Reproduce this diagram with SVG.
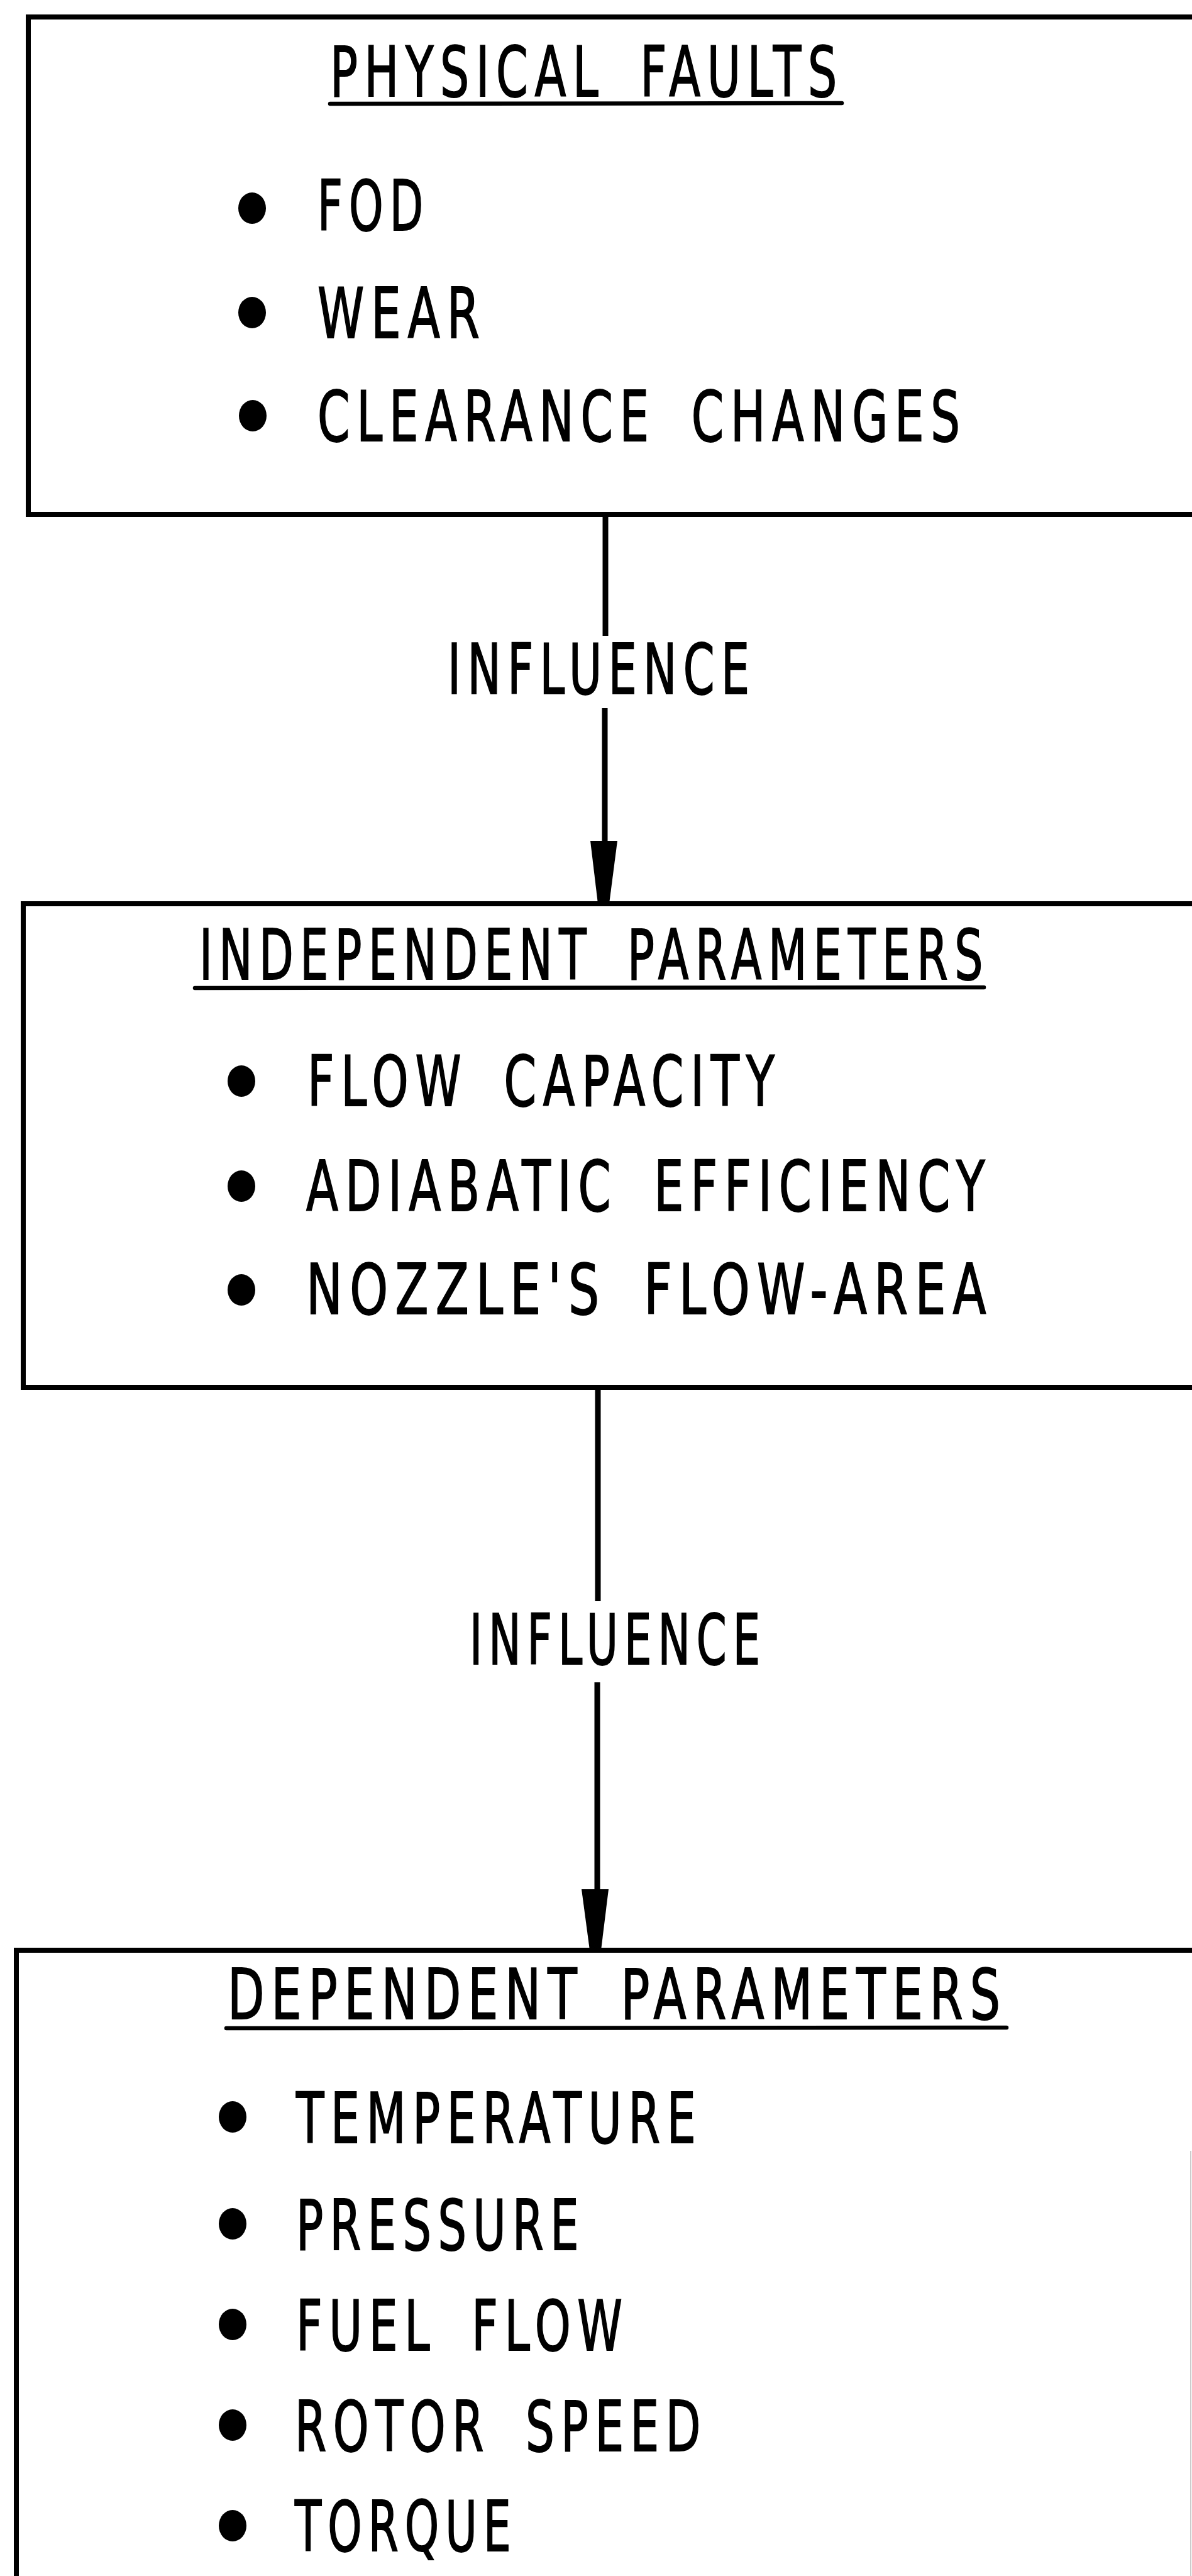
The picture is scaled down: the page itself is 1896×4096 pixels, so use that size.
<svg xmlns="http://www.w3.org/2000/svg" width="1896" height="4096" viewBox="0 0 1896 4096">
  <style>
    .box { fill: none; stroke: #000; stroke-width: 8; }
    .rule { stroke: #000; stroke-width: 6.5; stroke-linecap: round; }
    .wire { stroke: #000; stroke-width: 9; fill: none; }
    .head { fill: #000; }
    .dot { fill: #000; }
    text { font-family: "DejaVu Sans", "Liberation Sans", sans-serif; font-size: 110px; fill: #000;
           stroke: #000; stroke-width: 2; letter-spacing: 16px; word-spacing: 34px; }
  </style>
  <rect width="1896" height="4096" fill="#fff"/>

  <!-- Physical faults -->
  <g id="physical-faults">
    <rect class="box" x="45" y="27" width="1900" height="791"/>
    <text transform="translate(525 153) scale(0.8 1)" textLength="1021" lengthAdjust="spacingAndGlyphs">PHYSICAL FAULTS</text>
    <line class="rule" x1="525" y1="165" x2="1339" y2="164"/>
    <ellipse class="dot" cx="401" cy="331" rx="22" ry="25"/>
    <text transform="translate(505 366) scale(0.8 1)" textLength="223" lengthAdjust="spacingAndGlyphs">FOD</text>
    <ellipse class="dot" cx="401" cy="497" rx="22" ry="25"/>
    <text transform="translate(505 537) scale(0.8 1)" textLength="336" lengthAdjust="spacingAndGlyphs">WEAR</text>
    <ellipse class="dot" cx="402" cy="661" rx="22" ry="25"/>
    <text transform="translate(505 701) scale(0.8 1)" textLength="1291" lengthAdjust="spacingAndGlyphs">CLEARANCE CHANGES</text>
  </g>

  <!-- Independent parameters -->
  <g id="independent-parameters">
    <rect class="box" x="37" y="1437" width="1910" height="769"/>
    <text transform="translate(317 1557) scale(0.8 1)" textLength="1571" lengthAdjust="spacingAndGlyphs">INDEPENDENT PARAMETERS</text>
    <line class="rule" x1="310" y1="1571" x2="1565" y2="1570"/>
    <ellipse class="dot" cx="384" cy="1719" rx="22" ry="25"/>
    <text transform="translate(489 1758) scale(0.8 1)" textLength="942" lengthAdjust="spacingAndGlyphs">FLOW CAPACITY</text>
    <ellipse class="dot" cx="384" cy="1886" rx="22" ry="25"/>
    <text transform="translate(487 1925) scale(0.8 1)" textLength="1363" lengthAdjust="spacingAndGlyphs">ADIABATIC EFFICIENCY</text>
    <ellipse class="dot" cx="384" cy="2051" rx="22" ry="25"/>
    <text transform="translate(487 2089) scale(0.8 1)" textLength="1366" lengthAdjust="spacingAndGlyphs">NOZZLE'S FLOW-AREA</text>
  </g>

  <!-- Dependent parameters -->
  <g id="dependent-parameters">
    <rect class="box" x="26" y="3101" width="1920" height="1100"/>
    <line x1="1894" y1="3420" x2="1894" y2="4096" stroke="#ccc" stroke-width="2"/>
    <text transform="translate(362 3210) scale(0.8 1)" textLength="1550" lengthAdjust="spacingAndGlyphs">DEPENDENT PARAMETERS</text>
    <line class="rule" x1="360" y1="3225" x2="1601" y2="3224"/>
    <ellipse class="dot" cx="370" cy="3366" rx="22" ry="25"/>
    <text transform="translate(471 3407) scale(0.8 1)" textLength="808" lengthAdjust="spacingAndGlyphs">TEMPERATURE</text>
    <ellipse class="dot" cx="370" cy="3536" rx="22" ry="25"/>
    <text transform="translate(471 3577) scale(0.8 1)" textLength="575" lengthAdjust="spacingAndGlyphs">PRESSURE</text>
    <ellipse class="dot" cx="370" cy="3696" rx="22" ry="25"/>
    <text transform="translate(471 3737) scale(0.8 1)" textLength="662" lengthAdjust="spacingAndGlyphs">FUEL FLOW</text>
    <ellipse class="dot" cx="370" cy="3856" rx="22" ry="25"/>
    <text transform="translate(469 3897) scale(0.8 1)" textLength="820" lengthAdjust="spacingAndGlyphs">ROTOR SPEED</text>
    <ellipse class="dot" cx="370" cy="4016" rx="22" ry="25"/>
    <text transform="translate(469 4056) scale(0.8 1)" textLength="442" lengthAdjust="spacingAndGlyphs">TORQUE</text>
  </g>

  <!-- Influence arrows between the levels -->
  <g id="connectors">
    <g id="influence-1">
      <line class="wire" x1="963" y1="818" x2="963" y2="1011"/>
      <text transform="translate(712 1103) scale(0.8 1)" textLength="613" lengthAdjust="spacingAndGlyphs">INFLUENCE</text>
      <line class="wire" x1="962" y1="1126" x2="962" y2="1340"/>
      <polygon class="head" points="939,1337 982,1337 969,1437 951,1437"/>
    </g>
    <g id="influence-2">
      <line class="wire" x1="951" y1="2206" x2="951" y2="2546"/>
      <text transform="translate(747 2646) scale(0.8 1)" textLength="590" lengthAdjust="spacingAndGlyphs">INFLUENCE</text>
      <line class="wire" x1="950" y1="2675" x2="950" y2="3007"/>
      <polygon class="head" points="925,3004 968,3004 956,3101 938,3101"/>
    </g>
  </g>
</svg>
